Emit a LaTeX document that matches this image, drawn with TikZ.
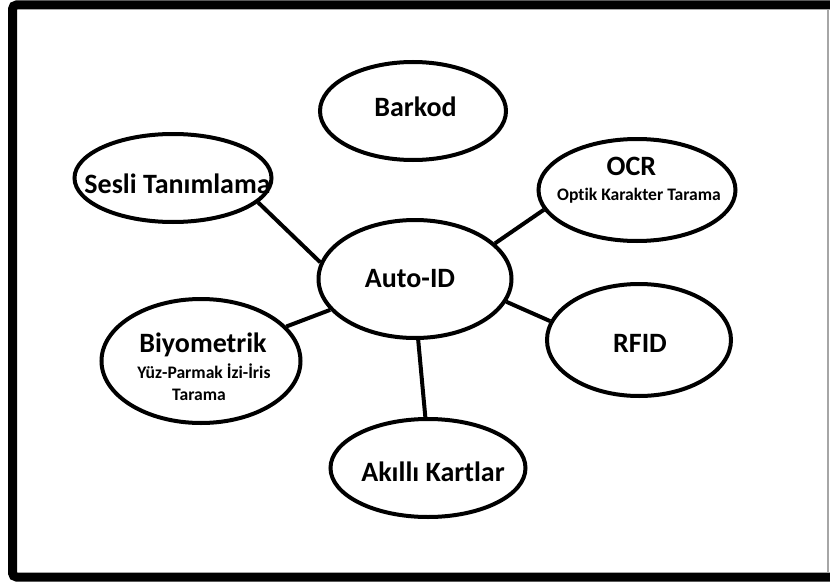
\documentclass[tikz,border=0pt]{standalone}
\usepackage{fontspec}
\setmainfont{Carlito}[Ligatures=NoCommon]
\usetikzlibrary{shapes.geometric}
\begin{document}
\begin{tikzpicture}[x=1pt,y=-1pt,
  bub/.style={ellipse, draw, line width=4pt, inner sep=0pt},
  main/.style={anchor=base, inner sep=0pt, font=\bfseries\fontsize{28}{30}\selectfont},
  sub/.style={anchor=base, inner sep=0pt, font=\bfseries\fontsize{17.6}{20}\selectfont},
  link/.style={line width=4pt}]
\useasboundingbox (0,0) rectangle (830,586);
\fill[white] (0,0) rectangle (830,586);
% frame
\draw[line width=9pt, rounded corners=4pt] (845,5) -- (12.5,5) -- (12.5,577) -- (845,577);
\draw[black!35, line width=1.5pt] (828,10) -- (828,572);
% bubbles
\node[bub, minimum width=186, minimum height=98]  (bar)  at (413,111) {};
\node[bub, minimum width=197, minimum height=88]  (ses)  at (173,178) {};
\node[bub, minimum width=197, minimum height=102] (ocr)  at (637,190) {};
\node[bub, minimum width=193, minimum height=118] (aid)  at (415,279) {};
\node[bub, minimum width=184, minimum height=112] (rfid) at (639,340) {};
\node[bub, minimum width=199, minimum height=124] (bio)  at (201,361) {};
\node[bub, minimum width=195, minimum height=98]  (akl)  at (428,468) {};
% texts
\node[main] (barT)  at (415.5,117) {Barkod};
\node[main] (sesT)  at (177.5,193) {Sesli Tanımlama};
\node[main] (ocrT)  at (631.5,175) {OCR};
\node[sub]  (ocrS)  at (639,200) {Optik Karakter Tarama};
\node[main] (aidT)  at (410,287) {Auto-ID};
\node[main] (rfidT) at (640,352) {RFID};
\node[main] (bioT)  at (203,352) {Biyometrik};
\node[sub]  (bioS1) at (204,378) {Yüz-Parmak İzi-İris};
\node[sub]  (bioS2) at (199,400) {Tarama};
\node[main] (aklT)  at (433,481) {Akıllı Kartlar};
% connectors
\draw[link] (ses.-16) -- (aid.170);
\draw[link] (ocr.192) -- (aid.24);
\draw[link] (rfid.168) -- (aid.-14);
\draw[link] (bio.22) -- (aid.200);
\draw[link] (aid.-87) -- (akl.93);
\end{tikzpicture}
\end{document}
